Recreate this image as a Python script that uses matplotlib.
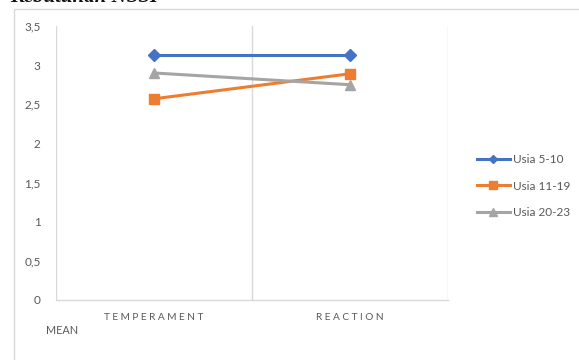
import matplotlib
matplotlib.use("Agg")
import matplotlib.pyplot as plt
from matplotlib.patches import Rectangle

categories = ["TEMPERAMENT", "REACTION"]
series_names = ["Usia 5-10", "Usia 11-19", "Usia 20-23"]
usia_5_10 = [3.13, 3.13]
usia_11_19 = [2.57, 2.89]
usia_20_23 = [2.90, 2.75]
y_ticks = [0, 0.5, 1, 1.5, 2, 2.5, 3, 3.5]
y_tick_labels = ["0", "0,5", "1", "1,5", "2", "2,5", "3", "3,5"]

W, H = 579, 360
fig = plt.figure(figsize=(W / 100, H / 100), dpi=100)
fig.patch.set_facecolor("white")

# outer chart frame
fig.patches.append(Rectangle((14 / W, -0.1), 1.2, (H - 9) / H + 0.1,
                             transform=fig.transFigure, fill=False,
                             edgecolor="#d9d9d9", linewidth=1.0))

# heading above the chart, partly cut by the page edge
fig.text(10 / W, (H - 2) / H, "Kebutuhan NSSI", fontsize=15,
         family="Liberation Serif", style="italic", fontweight="bold",
         color="#111111", va="baseline", ha="left")

left, right, top, bottom = 56, 448, 26, 300
ax = fig.add_axes([left / W, (H - bottom) / H, (right - left) / W, (bottom - top) / H])

x = list(range(len(categories)))
ax.plot(x, usia_5_10, color="#4472C4", lw=2.2, marker="D", ms=6, label=series_names[0], zorder=3)
ax.plot(x, usia_11_19, color="#ED7D31", lw=2.2, marker="s", ms=7.5, label=series_names[1], zorder=3)
ax.plot(x, usia_20_23, color="#A5A5A5", lw=2.2, marker="^", ms=7.5, label=series_names[2], zorder=3)

ax.set_xlim(-0.5, len(categories) - 0.5)
ax.set_ylim(0, 3.5)

# vertical gridlines at category boundaries
for b in [i - 0.5 for i in range(len(categories) + 1)]:
    ax.axvline(b, color="#d9d9d9", lw=1.0, zorder=1)

for s in ["top", "right", "left"]:
    ax.spines[s].set_visible(False)
ax.spines["bottom"].set_color("#d9d9d9")
ax.spines["bottom"].set_linewidth(1.0)

ax.set_yticks(y_ticks)
ax.set_yticklabels(y_tick_labels, fontsize=8.5, color="#595959", family="Lato")
ax.tick_params(axis="y", length=0, pad=11)

ax.set_xticks(x)
spaced = ["\u2009\u2009".join(c) for c in categories]
ax.set_xticklabels(spaced, fontsize=7.3, color="#595959", family=["Lato", "DejaVu Sans"])
ax.tick_params(axis="x", length=0, pad=9)

fig.text(46 / W, (H - 331) / H, "MEAN", fontsize=7.8, color="#595959",
         family="Lato", va="center", ha="left")

leg = fig.legend(loc="center left", bbox_to_anchor=(466 / W, (H - 186) / H),
                 frameon=False, prop={"family": "Lato", "size": 8.5},
                 handlelength=2.8, handletextpad=0.3, labelspacing=1.3,
                 markerscale=0.75)
for t in leg.get_texts():
    t.set_color("#595959")

fig.savefig("out.png", dpi=100)
